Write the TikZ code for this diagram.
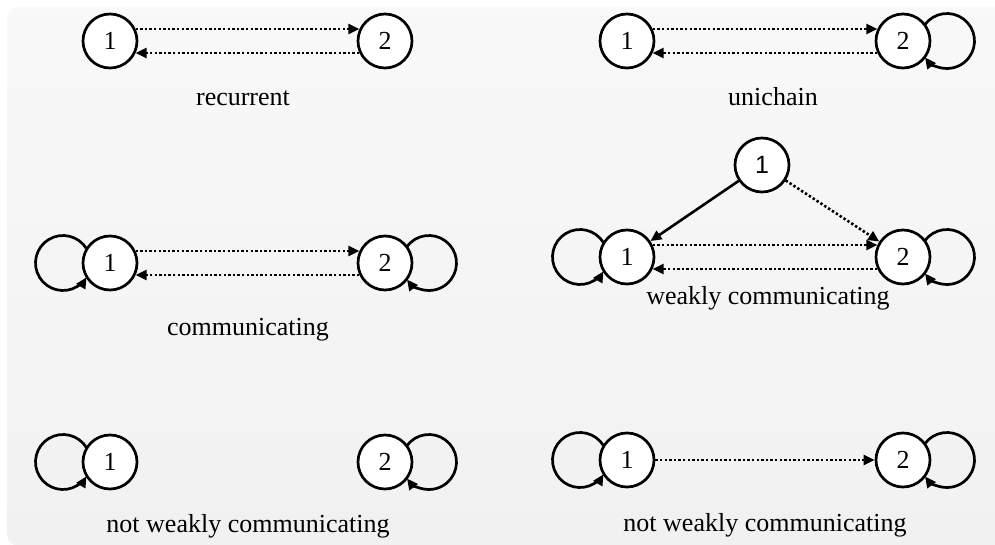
\documentclass[tikz,border=0pt]{standalone}
\usepackage{fontspec}
\setmainfont{Liberation Serif}
\newfontfamily\digitsans{Liberation Sans}
\usetikzlibrary{arrows.meta,calc}
\begin{document}
\begin{tikzpicture}[x=1pt,y=1pt,
  state/.style={circle,draw,line width=2.7pt,fill=white,minimum size=54pt,inner sep=0pt,
    font=\fontsize{26}{26}\selectfont},
  caption/.style={anchor=base,inner sep=0pt,font=\fontsize{26}{26}\selectfont},
  tip/.style={-{Triangle[length=11pt,width=10pt]}},
  link/.style={tip,line width=2.6pt},
  dots/.style={link,dash pattern=on 2.4pt off 2.2pt},
  selfloop/.style={tip,line width=2.7pt}
]
\useasboundingbox (0,0) rectangle (995,544);
% panel background
\shade[top color=gray!5,bottom color=gray!11,rounded corners=12pt]
  (7,-2) rectangle (1010,537);

% recurrent
\node[state] (r1) at (110,503) {1};
\node[state] (r2) at (385,503) {2};
\draw[dots] (r1.25) -- (r2.155);
\draw[dots] (r2.205) -- (r1.335);
\node[caption] (lr) at (243,438) {recurrent};

% unichain
\node[state] (u1) at (627,503) {1};
\node[state] (u2) at (903,503) {2};
\draw[dots] (u1.25) -- (u2.155);
\draw[dots] (u2.205) -- (u1.335);
\draw[selfloop] ($(u2)+(44,0)$) ++(143.1:27.5) arc[start angle=143.1,end angle=-143.1,radius=27.5];
\node[caption] (lu) at (773,438) {unichain};

% communicating
\node[state] (c1) at (110,281) {1};
\node[state] (c2) at (385,281) {2};
\draw[dots] (c1.25) -- (c2.155);
\draw[dots] (c2.205) -- (c1.335);
\draw[selfloop] ($(c1)+(-47,0)$) ++(31.3:27.5) arc[start angle=31.3,end angle=328.7,radius=27.5];
\draw[selfloop] ($(c2)+(44,0)$) ++(143.1:27.5) arc[start angle=143.1,end angle=-143.1,radius=27.5];
\node[caption] (lc) at (248,209) {communicating};

% weakly communicating
\node[state,font=\digitsans\fontsize{25}{25}\selectfont] (t) at (762,379) {1};
\node[state] (w1) at (627,287) {1};
\node[state] (w2) at (903,287) {2};
\draw[link] (t) -- (w1);
\draw[dots] (t) -- (w2);
\draw[dots] (w1.25) -- (w2.155);
\draw[dots] (w2.205) -- (w1.335);
\draw[selfloop] ($(w1)+(-47,0)$) ++(31.3:27.5) arc[start angle=31.3,end angle=328.7,radius=27.5];
\draw[selfloop] ($(w2)+(44,0)$) ++(143.1:27.5) arc[start angle=143.1,end angle=-143.1,radius=27.5];
\node[caption] (lw) at (768,240) {weakly communicating};

% not weakly communicating, no link
\node[state] (n1) at (110,82) {1};
\node[state] (n2) at (385,82) {2};
\draw[selfloop] ($(n1)+(-47,0)$) ++(31.3:27.5) arc[start angle=31.3,end angle=328.7,radius=27.5];
\draw[selfloop] ($(n2)+(44,0)$) ++(143.1:27.5) arc[start angle=143.1,end angle=-143.1,radius=27.5];
\node[caption] (ln) at (248,12) {not weakly communicating};

% not weakly communicating, one-way link
\node[state] (m1) at (627,84) {1};
\node[state] (m2) at (903,84) {2};
\draw[dots] (m1) -- (m2);
\draw[selfloop] ($(m1)+(-47,0)$) ++(31.3:27.5) arc[start angle=31.3,end angle=328.7,radius=27.5];
\draw[selfloop] ($(m2)+(44,0)$) ++(143.1:27.5) arc[start angle=143.1,end angle=-143.1,radius=27.5];
\node[caption] (lm) at (765,13) {not weakly communicating};
\end{tikzpicture}
\end{document}
